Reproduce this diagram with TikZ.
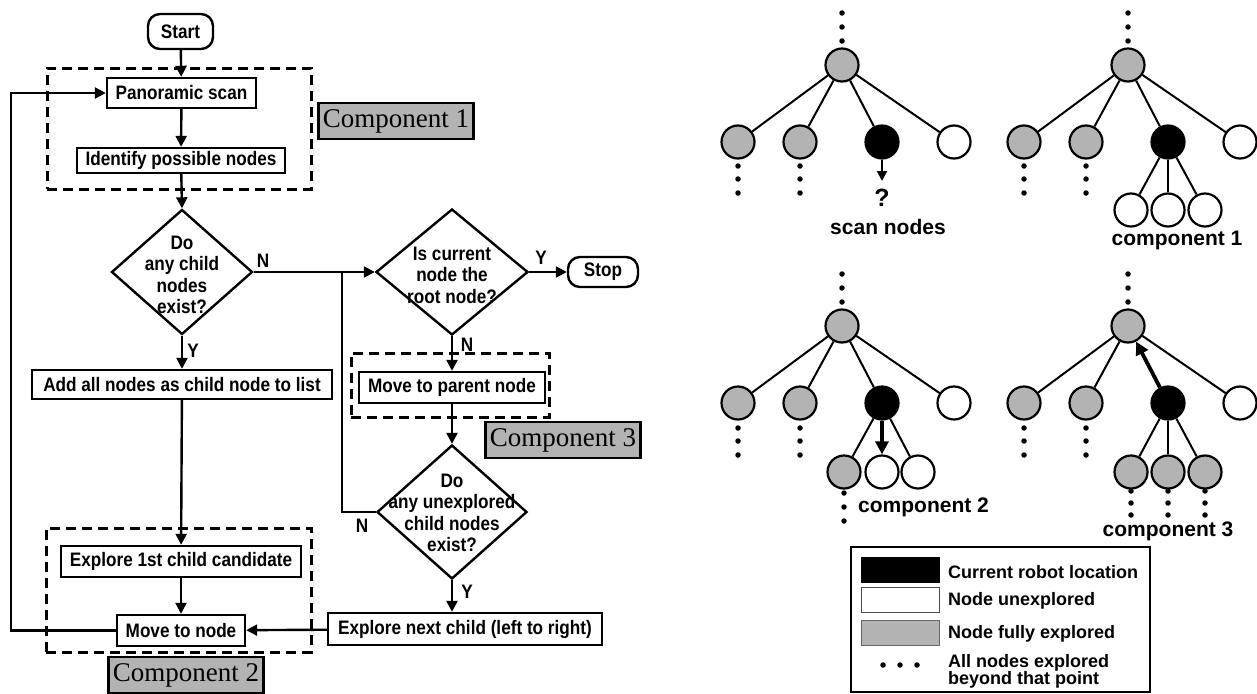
\documentclass[tikz,border=0pt]{standalone}
\usepackage{fontspec}
\setmainfont{Liberation Sans}
\newfontfamily\flowfont[FakeStretch=0.88]{Liberation Sans}
\newfontfamily\tnr{Liberation Serif}
\usetikzlibrary{shapes.geometric,arrows.meta}
\definecolor{fillgray}{RGB}{179,179,179}
\begin{document}
\begin{tikzpicture}[x=1pt,y=-1pt,
  ftxt/.style={font=\flowfont\fontsize{19.5}{21.5}\selectfont\bfseries, align=center, inner sep=0pt},
  fbox/.style={ftxt, draw, line width=2.4pt, fill=white},
  term/.style={fbox, rounded corners=12pt},
  dia/.style={draw, diamond, line width=2.4pt, inner sep=0pt},
  arr/.style={line width=2.4pt, -{Triangle[length=11pt,width=11pt]}},
  ln/.style={line width=2.4pt},
  grp/.style={draw, dash pattern=on 10pt off 6pt, line width=3pt, inner sep=0pt},
  comp/.style={draw, fill=fillgray, line width=2.4pt, inner sep=0pt, minimum width=155pt, minimum height=36pt, font=\tnr\fontsize{27}{27}\selectfont},
  tnode/.style={circle, draw, line width=2.2pt, minimum size=33pt, inner sep=0pt},
  gn/.style={tnode, fill=fillgray},
  bn/.style={tnode, fill=black},
  wn/.style={tnode, fill=white},
  edge/.style={line width=2pt},
  dot/.style={circle, fill=black, inner sep=0pt, minimum size=5.5pt},
  tlab/.style={font=\fontsize{21}{21}\selectfont\bfseries, inner sep=0pt},
  legt/.style={font=\fontsize{18}{18}\selectfont\bfseries, anchor=west, align=left, inner sep=0pt},
  sw/.style={draw, inner sep=0pt, minimum width=78pt, minimum height=25pt}
]
\useasboundingbox (0,0) rectangle (1257,693);

% ---------- dashed groups ----------
\node[grp, minimum width=264pt, minimum height=121pt] (g1) at (179,128.5) {};
\node[grp, minimum width=198pt, minimum height=64pt] (g3) at (450,385) {};
\node[grp, minimum width=265pt, minimum height=124pt] (g2) at (178.5,590) {};

% ---------- flowchart nodes ----------
\node[term, minimum width=65pt, minimum height=35pt] (start) at (180.5,31.5) {Start};
\node[fbox, minimum width=149pt, minimum height=30pt] (pan) at (181.5,93) {Panoramic scan};
\node[fbox, minimum width=208pt, minimum height=25pt] (ident) at (181,160.5) {Identify possible nodes};
\node[dia, minimum width=141pt, minimum height=125pt] (d1) at (182,272) {};
\node[ftxt] (t1) at (182,275) {Do\\any child\\nodes\\exist?};
\node[dia, minimum width=152pt, minimum height=126pt] (d2) at (452,272) {};
\node[ftxt] (t2) at (452,275) {Is current\\node the\\root node?};
\node[term, minimum width=70pt, minimum height=30pt] (stop) at (603,272) {Stop};
\node[fbox, minimum width=300pt, minimum height=29pt] (add) at (182,384.5) {Add all nodes as child node to list};
\node[fbox, minimum width=186pt, minimum height=31pt] (parent) at (452,387.5) {Move to parent node};
\node[dia, minimum width=150pt, minimum height=134pt] (d3) at (452,512) {};
\node[ftxt] (t3) at (452,513) {Do\\any unexplored\\child nodes\\exist?};
\node[fbox, minimum width=240pt, minimum height=31pt] (exp1) at (181,561.5) {Explore 1st child candidate};
\node[fbox, minimum width=128pt, minimum height=31pt] (move) at (181,630.5) {Move to node};
\node[fbox, minimum width=274pt, minimum height=32pt] (expn) at (465,629) {Explore next child (left to right)};

% component labels
\node[comp] (c1) at (396,121) {Component 1};
\node[comp] (c3) at (563,440) {Component 3};
\node[comp] (c2) at (186,675) {Component 2};

% Y/N labels
\node[ftxt] (n1) at (263,261) {N};
\node[ftxt] (y1) at (193,351) {Y};
\node[ftxt] (y2) at (541,258) {Y};
\node[ftxt] (n2) at (467,345) {N};
\node[ftxt] (n3) at (362,526) {N};
\node[ftxt] (y3) at (467,592) {Y};

% connectors
\coordinate (j1) at (342,272);
\coordinate (lp) at (11,93);
\draw[arr] (start) -- (pan);
\draw[arr] (pan) -- (ident);
\draw[arr] (ident) -- (d1.north);
\draw[arr] (d1.south) -- (add);
\draw[arr] (d1.east) -- (d2.west);
\draw[arr] (d2.east) -- (stop.west);
\draw[arr] (d2.south) -- (parent);
\draw[arr] (parent) -- (d3.north);
\draw[ln] (d3.west) -| (j1);
\draw[arr] (d3.south) -- (d3.south |- expn.north);
\draw[arr] (expn) -- (move);
\draw[arr] (add) -- (exp1);
\draw[arr] (exp1) -- (move);
\draw[arr] (move.west) -| (lp) -- (pan.west);

% ---------- trees ----------
% tree 1
\node[gn] (r1) at (842,65) {};
\node[gn] (c11) at (738,142) {};
\node[gn] (c12) at (800,142) {};
\node[bn] (c13) at (882,142) {};
\node[wn] (c14) at (954,142) {};
\foreach \i in {c11,c12,c13,c14} \draw[edge] (r1) -- (\i);
\foreach \y in {13,27,41} \node[dot] at (842,\y) {};
\foreach \x in {738,800} \foreach \y in {166,179,193} \node[dot] at (\x,\y) {};
\coordinate (q1) at (882,181);
\draw[edge, -{Triangle[length=10pt,width=10pt]}] (c13) -- (q1);
\node[tlab, font=\fontsize{25}{25}\selectfont\bfseries] (qm) at (882,198) {?};
\node[tlab] (l1) at (888,227) {scan nodes};

% tree 2
\node[gn] (r2) at (1128,65) {};
\node[gn] (c21) at (1024,142) {};
\node[gn] (c22) at (1086,142) {};
\node[bn] (c23) at (1168,142) {};
\node[wn] (c24) at (1240,142) {};
\foreach \i in {c21,c22,c23,c24} \draw[edge] (r2) -- (\i);
\node[wn] (g21) at (1131,210) {};
\node[wn] (g22) at (1168,210) {};
\node[wn] (g23) at (1205,210) {};
\foreach \i in {g21,g22,g23} \draw[edge] (c23) -- (\i);
\foreach \y in {13,27,41} \node[dot] at (1128,\y) {};
\foreach \x in {1024,1086} \foreach \y in {166,179,193} \node[dot] at (\x,\y) {};
\node[tlab] (l2) at (1177,240) {component 1};

% tree 3
\node[gn] (r3) at (842,326) {};
\node[gn] (c31) at (738,403) {};
\node[gn] (c32) at (800,403) {};
\node[bn] (c33) at (882,403) {};
\node[wn] (c34) at (954,403) {};
\foreach \i in {c31,c32,c33,c34} \draw[edge] (r3) -- (\i);
\node[gn] (g31) at (844,472) {};
\node[wn] (g32) at (882,472) {};
\node[wn] (g33) at (918,472) {};
\draw[edge] (c33) -- (g31);
\draw[edge] (c33) -- (g33);
\draw[line width=3.8pt, -{Triangle[length=13pt,width=13pt]}] (c33) -- (g32);
\foreach \y in {274,288,302} \node[dot] at (842,\y) {};
\foreach \x in {738,800} \foreach \y in {428,441,455} \node[dot] at (\x,\y) {};
\foreach \y in {493,507,521} \node[dot] at (844,\y) {};
\node[tlab, anchor=west] (l3) at (858,507) {component 2};

% tree 4
\node[gn] (r4) at (1128,326) {};
\node[gn] (c41) at (1024,403) {};
\node[gn] (c42) at (1086,403) {};
\node[bn] (c43) at (1168,403) {};
\node[wn] (c44) at (1240,403) {};
\foreach \i in {c41,c42,c44} \draw[edge] (r4) -- (\i);
\draw[line width=3.8pt, -{Triangle[length=13pt,width=13pt]}] (c43) -- (r4);
\node[gn] (g41) at (1131,472) {};
\node[gn] (g42) at (1168,472) {};
\node[gn] (g43) at (1205,472) {};
\foreach \i in {g41,g42,g43} \draw[edge] (c43) -- (\i);
\foreach \y in {274,288,302} \node[dot] at (1128,\y) {};
\foreach \x in {1024,1086} \foreach \y in {428,441,455} \node[dot] at (\x,\y) {};
\foreach \x in {1131,1168,1205} \foreach \y in {491,503,515} \node[dot] at (\x,\y) {};
\node[tlab] (l4) at (1168,531) {component 3};

% ---------- legend ----------
\node[draw, line width=2.4pt, inner sep=0pt, minimum width=299pt, minimum height=145pt] (leg) at (1000.5,619.5) {};
\node[sw, fill=black] (s1) at (900,569.5) {};
\node[sw, fill=white, draw=black!70, line width=1pt] (s2) at (900,599.5) {};
\node[sw, fill=fillgray, draw=black!60, line width=1pt] (s3) at (900,632.5) {};
\node[legt] (lt1) at (948,572) {Current robot location};
\node[legt] (lt2) at (948,601) {Node unexplored};
\node[legt] (lt3) at (948,634) {Node fully explored};
\node[legt, font=\fontsize{18}{17}\selectfont\bfseries] (lt4) at (948,671) {All nodes explored\\beyond that point};
\foreach \x in {883,900,917} \node[dot] at (\x,665) {};
\end{tikzpicture}
\end{document}
